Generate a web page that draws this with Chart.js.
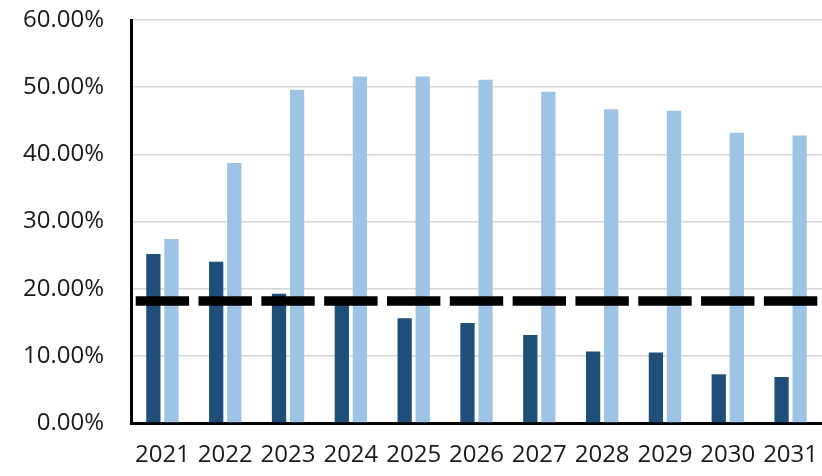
<!DOCTYPE html>
<html>
<head>
<meta charset="utf-8">
<script src="https://cdn.jsdelivr.net/npm/chart.js@4"></script>
<style>
  html, body { margin: 0; padding: 0; background: #fff; }
  #wrap { width: 822px; height: 476px; }
</style>
</head>
<body>
<div id="wrap"><canvas id="barChart"></canvas></div>
<script>
// años y valores (%)
const years = ['2021', '2022', '2023', '2024', '2025', '2026', '2027', '2028', '2029', '2030', '2031'];
const darkSeries = [25.15, 24.0, 19.25, 18.2, 15.6, 14.9, 13.1, 10.65, 10.5, 7.25, 6.85];
const lightSeries = [27.4, 38.7, 49.6, 51.6, 51.6, 51.1, 49.3, 46.7, 46.5, 43.2, 42.8];
const threshold = 18.15;
const yTicks = [0, 10, 20, 30, 40, 50, 60];

// línea discontinua de referencia, un trazo por categoría
const thresholdLine = {
  id: 'thresholdLine',
  afterDatasetsDraw(chart) {
    const { ctx, scales } = chart;
    const y = scales.y.getPixelForValue(threshold);
    const step = scales.x.getPixelForValue(1) - scales.x.getPixelForValue(0);
    const dash = step * 0.85;
    ctx.save();
    ctx.strokeStyle = '#000';
    ctx.lineWidth = 9.5;
    ctx.lineCap = 'butt';
    years.forEach((_, i) => {
      const cx = scales.x.getPixelForValue(i);
      ctx.beginPath();
      ctx.moveTo(cx - dash / 2, y);
      ctx.lineTo(cx + dash / 2, y);
      ctx.stroke();
    });
    ctx.restore();
  }
};

new Chart(document.getElementById('barChart').getContext('2d'), {
  type: 'bar',
  data: {
    labels: years,
    datasets: [{
      label: 'Serie 1',
      data: darkSeries,
      backgroundColor: '#1F4E79',
      borderWidth: 0,
      categoryPercentage: 0.575,
      barPercentage: 0.79
    }, {
      label: 'Serie 2',
      data: lightSeries,
      backgroundColor: '#9DC3E6',
      borderWidth: 0,
      categoryPercentage: 0.575,
      barPercentage: 0.79
    }]
  },
  options: {
    responsive: true,
    maintainAspectRatio: false,
    animation: false,
    layout: { padding: { top: 20, right: 0, bottom: 0, left: 0 } },
    plugins: {
      legend: { display: false },
      tooltip: { enabled: false }
    },
    scales: {
      x: {
        grid: { display: false, drawTicks: false },
        border: { color: '#000', width: 3 },
        ticks: {
          color: '#1a1a1a',
          font: { family: 'Open Sans', size: 24 },
          padding: 18,
          maxRotation: 0,
          autoSkip: false
        },
        afterFit(s) {
          s.height = 53;
          s.paddingLeft = 0;
          s.paddingRight = 0;
        }
      },
      y: {
        min: 0,
        max: 60,
        afterBuildTicks(s) { s.ticks = yTicks.map(v => ({ value: v })); },
        grid: { color: '#d6d6d6', lineWidth: 1.5, drawTicks: false },
        border: { color: '#000', width: 3 },
        ticks: {
          color: '#1a1a1a',
          font: { family: 'Open Sans', size: 24 },
          padding: 27,
          callback: v => v.toFixed(2) + '%'
        },
        afterFit(s) {
          s.width = 131;
          s.paddingTop = 0;
          s.paddingBottom = 0;
        }
      }
    }
  },
  plugins: [thresholdLine]
});
</script>
</body>
</html>
